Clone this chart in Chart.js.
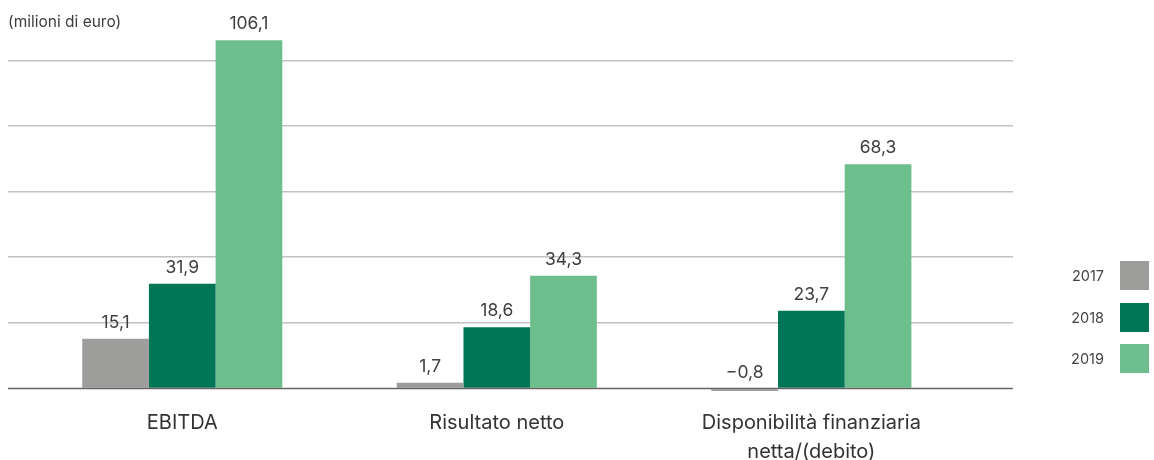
<!DOCTYPE html>
<html>
<head>
<meta charset="utf-8">
<script src="https://cdn.jsdelivr.net/npm/chart.js@4"></script>
<style>
  html, body { margin: 0; padding: 0; background: #fff; }
  #wrap { position: relative; width: 1154px; height: 460px; font-family: Inter, "Noto Sans", sans-serif; }
  #unit { position: absolute; left: 8px; top: 12px; font-size: 15.5px; color: #3c3c3c; }
  #legend { position: absolute; left: 1050px; top: 261px; }
  .item { display: flex; align-items: center; justify-content: flex-end; height: 29px; margin-bottom: 12.5px; width: 99px; }
  .item span { font-size: 14.5px; color: #444; margin-right: 16px; }
  .item i { display: block; width: 29px; height: 29px; }
</style>
</head>
<body>
<div id="wrap">
  <canvas id="myChart"></canvas>
  <div id="unit">(milioni di euro)</div>
  <div id="legend"></div>
</div>
<script>
// categorie (una riga per elemento)
const categories = [
    ['EBITDA'],
    ['Risultato netto'],
    ['Disponibilità finanziaria', 'netta/(debito)']
];
const years = ['2017', '2018', '2019'];
const values2017 = [15.1, 1.7, -0.8];
const values2018 = [31.9, 18.6, 23.7];
const values2019 = [106.1, 34.3, 68.3];
const colors = ['#9d9d9c', '#007656', '#6cbe8d'];

const series = [values2017, values2018, values2019];

const fmt = v => (v < 0 ? '\u2212' : '') + Math.abs(v).toFixed(1).replace('.', ',');

// etichette sopra le barre + linea dello zero
const barLabels = {
    id: 'barLabels',
    afterDatasetsDraw(chart) {
        const ctx = chart.ctx;
        const y = chart.scales.y;
        const zero = y.getPixelForValue(0);
        ctx.save();
        ctx.strokeStyle = '#666';
        ctx.lineWidth = 1.5;
        ctx.beginPath();
        ctx.moveTo(chart.chartArea.left, zero);
        ctx.lineTo(chart.chartArea.right, zero);
        ctx.stroke();

        ctx.font = '17.5px Inter';
        ctx.fillStyle = '#404040';
        ctx.textAlign = 'center';
        ctx.textBaseline = 'alphabetic';
        chart.data.datasets.forEach((ds, i) => {
            const meta = chart.getDatasetMeta(i);
            meta.data.forEach((bar, j) => {
                const top = Math.min(bar.y, bar.base);
                ctx.fillText(fmt(ds.data[j].y), bar.x, top - 11);
            });
        });
        ctx.restore();
    }
};

window.addEventListener('DOMContentLoaded', function() {
    const legend = document.querySelector('#legend');
    years.forEach((yr, i) => {
        const row = document.createElement('div');
        row.className = 'item';
        row.innerHTML = `<span>${yr}</span><i style="background:${colors[i]}"></i>`;
        legend.appendChild(row);
    });

    const datasets = years.map((yr, i) => ({
        label: yr,
        data: series[i].map((v, j) => ({ x: j, y: v })),
        backgroundColor: colors[i],
        borderWidth: 0,
        barPercentage: 1,
        categoryPercentage: 0.636
    }));

    new Chart(document.querySelector('#myChart'), {
        type: 'bar',
        data: { datasets },
        plugins: [barLabels],
        options: {
            responsive: true,
            maintainAspectRatio: false,
            animation: false,
            layout: { padding: { left: 8, right: 141, top: 20, bottom: 0 } },
            plugins: { legend: { display: false }, tooltip: { enabled: false } },
            scales: {
                x: {
                    type: 'linear',
                    offset: false,
                    min: -0.554,
                    max: 2.641,
                    grid: { display: false, drawTicks: false },
                    border: { display: false },
                    afterFit: s => { s.height = 64.4; },
                    ticks: {
                        stepSize: 1,
                        includeBounds: false,
                        autoSkip: false,
                        maxRotation: 0,
                        padding: 13.5,
                        color: '#333',
                        font: { family: 'Inter', size: 20, lineHeight: 1.425 },
                        callback: v => categories[v] || ''
                    }
                },
                y: {
                    min: -2.2,
                    max: 112.3,
                    border: { display: false },
                    grid: {
                        drawTicks: false,
                        lineWidth: 1.5,
                        color: c => (c.tick && c.tick.value > 0 && c.tick.value % 20 === 0) ? '#c2c2c2' : 'rgba(0,0,0,0)'
                    },
                    ticks: { display: false, stepSize: 20, includeBounds: false }
                }
            }
        }
    });
});
</script>
</body>
</html>
